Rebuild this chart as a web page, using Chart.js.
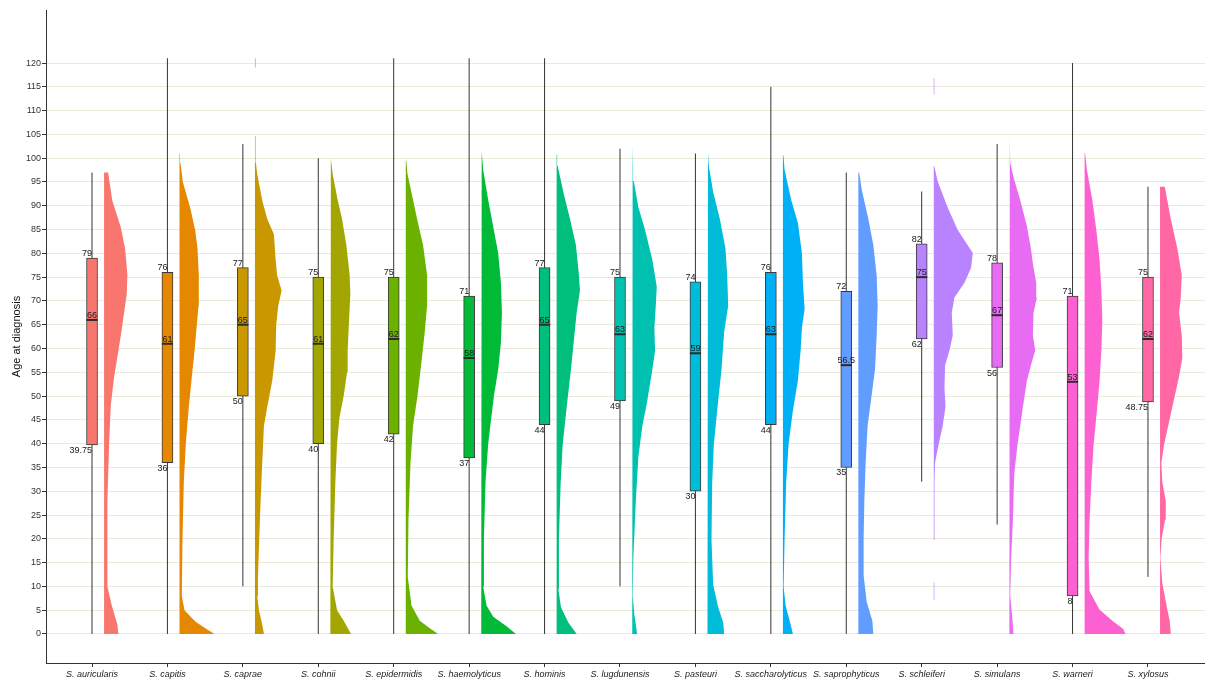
<!DOCTYPE html>
<html>
<head>
<meta charset="utf-8">
<script src="https://cdn.jsdelivr.net/npm/chart.js@4/dist/chart.umd.min.js"></script>
<style>
  html, body { margin: 0; padding: 0; background: #fff; overflow: hidden; }
  #wrap { width: 1205px; height: 680px; position: relative; }
  #chart { display: block; }
</style>
</head>
<body>
<div id="wrap"><canvas id="chart"></canvas></div>
<script>
// Categories and colours (ggplot hue palette)
const SPECIES = ['S. auricularis', 'S. capitis', 'S. caprae', 'S. cohnii', 'S. epidermidis',
  'S. haemolyticus', 'S. hominis', 'S. lugdunensis', 'S. pasteuri', 'S. saccharolyticus',
  'S. saprophyticus', 'S. schleiferi', 'S. simulans', 'S. warneri', 'S. xylosus'];
const COLORS = ['#F8766D', '#E58700', '#C99800', '#A3A500', '#6BB100', '#00BA38', '#00BF7D',
  '#00C0AF', '#00BCD8', '#00B0F6', '#619CFF', '#B983FF', '#E76BF3', '#FD61D1', '#FF67A4'];

// Box plot statistics (age at diagnosis)
const MINS    = [0, 0, 10, 0, 0, 0, 0, 10, 0, 0, 0, 32, 23, 0, 12];
const Q1S     = [39.75, 36, 50, 40, 42, 37, 44, 49, 30, 44, 35, 62, 56, 8, 48.75];
const MEDIANS = [66, 61, 65, 61, 62, 58, 65, 63, 59, 63, 56.5, 75, 67, 53, 62];
const Q3S     = [79, 76, 77, 75, 75, 71, 77, 75, 74, 76, 72, 82, 78, 71, 75];
const MAXS    = [97, 121, 103, 100, 121, 121, 121, 102, 101, 115, 97, 93, 103, 120, 94];

const Y_TICKS = [0, 5, 10, 15, 20, 25, 30, 35, 40, 45, 50, 55, 60, 65, 70, 75, 80, 85, 90, 95, 100, 105, 110, 115, 120];

// Half-violin density profiles: [age, relative width]
const DENS_AURICULARIS = [[0,14.3],[2,13.3],[6,7.7],[10,3.3],[16,3],[28,3.7],[40,5],[48,6.7],[54,10],[59.5,14.3],[63.5,17.3],[67.5,20],[71.5,22.7],[75.5,23.3],[81,21],[85.5,16.7],[91,8.3],[97,4]];
const DENS_CAPITIS = [[0,35],[1,27.3],[2.6,15.7],[5,5],[8,2.3],[20,3],[32,4.3],[40,6.3],[47.7,9.3],[54,12.3],[59.5,15],[63.5,16.7],[69,19],[75.3,19.3],[81,18],[84.8,15.7],[89.6,10.7],[95,3.3],[99,1],[101,0.5]];
const DENS_CAPRAE = [[0,9],[2,7.3],[5,4],[8,2.3],[12,3],[20,4.3],[28,5.7],[36,7.3],[43.7,9],[47.7,12.3],[53.2,17.3],[59.5,20.7],[65,21.3],[69,23.3],[72.2,26.7],[75.3,22.3],[78.5,20.7],[84,19],[87.2,12.3],[91.1,7.3],[96.7,2.3],[99,1],[104.6,0.6],[104.7,0],[119,0],[119.1,0.6],[121,0.6]];
const DENS_COHNII = [[0,20.7],[2.8,13.3],[5,6.7],[10,2.3],[20,3.3],[32,5],[40,6.7],[45.4,9],[50,13.3],[55,16.7],[59.6,17.3],[66,18.7],[71.4,20],[75.4,19.3],[81.7,16],[87.2,11.7],[91.2,7.3],[96.7,2.3],[100,0.5]];
const DENS_EPIDERMIDIS = [[0,32.3],[1.2,24],[2.8,14],[6,5.7],[12,2],[24,2.7],[36,4.7],[43.8,7.3],[50,11.7],[57.2,15.7],[63.5,19],[69,21.3],[75.4,21.3],[81.7,17.3],[87.2,11.3],[91.2,7.3],[96.7,1.7],[99.5,0.5]];
const DENS_HAEMOLYTICUS = [[0,34.7],[1.6,25.3],[3.6,12],[6,5.3],[10,2],[20,2.7],[32,4.3],[40,7],[45.4,10],[50,12.7],[55.6,17],[61.2,19.7],[67.5,20.7],[73.8,19.7],[80,17],[85.6,12],[91.2,7],[97.5,2],[101.4,0.5]];
const DENS_HOMINIS = [[0,20],[2.4,11.7],[5.6,4.3],[9.5,1.7],[20,2.3],[31.7,4],[39.7,6],[47.6,10],[55.6,14.3],[62.7,17.7],[67.5,20],[72.2,23.3],[75.4,22.3],[81.7,19.3],[87.3,13.3],[92.9,6.7],[98.4,1],[100.8,0.5]];
const DENS_LUGDUNENSIS = [[0,5],[1.6,4],[4,2.3],[8,0.7],[16,1.3],[27.8,3.7],[37.3,6.3],[43.7,10.3],[48.4,14.7],[54.8,19.7],[59.5,23],[64.3,22.3],[69,23.7],[73,24.7],[78.6,20.3],[84.9,13],[89.7,6.3],[95.2,1.7],[97.6,1],[102.8,0.6],[102.9,0],[115,0],[115.1,0.6],[119.3,0.6]];
const DENS_PASTEURI = [[0,16.7],[2.4,15.7],[5.6,10.7],[10.3,5.7],[19.8,4],[31.7,4.7],[39.7,6.3],[47.6,10],[55.6,14],[63.5,16.7],[69,20.7],[75.4,19.7],[81,18],[87.3,12.3],[92.9,5.7],[98.4,1.3],[101.2,0.5]];
const DENS_SACCHAROLYTICUS = [[0,10],[2,7.7],[6,2.7],[10,0.7],[20.2,1.7],[32,3.3],[40,5.7],[47,10],[53.3,15],[59.6,17.7],[64.4,19],[68.3,21.7],[73.8,20],[80,19],[86.4,15],[91.2,8.3],[97.5,1.7],[100.6,0.5]];
const DENS_SAPROPHYTICUS = [[0,15],[2.8,14],[6.8,8.3],[12.3,5.3],[20.2,5.3],[28,6],[36,7.3],[43.8,9.3],[50.2,13.3],[55.7,16.7],[62.8,18.3],[69,19.3],[75.4,18.3],[81.7,15],[87.2,10],[93.5,3.3],[97,0.8]];
const DENS_SCHLEIFERI = [[7.2,0.6],[10.7,0.6],[10.8,0],[19.7,0],[19.8,0.6],[32,0.7],[36,1.3],[39,4],[43.8,9],[47.8,11.7],[51.7,10.7],[56.5,11.3],[59.6,15.7],[62.8,19],[67.5,18],[70.7,20.7],[73.8,30.7],[77,37.3],[80.1,39],[84.9,24],[89.6,14],[95.1,4],[98.3,0.5],[98.4,0],[113.4,0],[113.5,0.6],[116.8,0.6]];
const DENS_SIMULANS = [[0,4.3],[4.3,2.7],[8.2,1],[16.1,2],[24,3.7],[33.5,5],[39.8,8.3],[47.7,13.7],[53.3,17.7],[57.2,22.7],[59.6,26],[62.8,23.7],[67.5,24.3],[70.7,27.7],[73.8,27],[77.8,23.7],[81,21.7],[85.7,17.7],[91.2,11],[96,4.3],[99.1,1],[104.3,0.6],[104.4,0],[113.8,0],[113.9,0.6],[120,0.6]];
const DENS_WARNERI = [[0,41],[1.1,38.3],[2.7,28.3],[5.1,15],[9,5],[16.1,4],[24,5],[31.9,6.7],[39.8,9],[47,12.3],[53.3,15],[59.6,16.7],[65.9,17.7],[72.3,16.7],[78.6,15],[84.9,11.7],[91.2,7.7],[97.5,2.3],[101.1,0.5]];
const DENS_XYLOSUS = [[0,10.7],[2.7,9.7],[5.8,6.7],[10.6,2.3],[16.1,0.3],[20.1,1.7],[24,5],[28,5.7],[31.9,2.3],[35.9,1.3],[39.8,4],[47.7,12.3],[54.1,19],[58,22.3],[62.8,21.7],[67.5,19],[70.7,20.7],[75.4,21.7],[81,17.3],[87.3,10.7],[94,4.7]];

const DENSITIES = [DENS_AURICULARIS, DENS_CAPITIS, DENS_CAPRAE, DENS_COHNII, DENS_EPIDERMIDIS,
  DENS_HAEMOLYTICUS, DENS_HOMINIS, DENS_LUGDUNENSIS, DENS_PASTEURI, DENS_SACCHAROLYTICUS,
  DENS_SAPROPHYTICUS, DENS_SCHLEIFERI, DENS_SIMULANS, DENS_WARNERI, DENS_XYLOSUS];

const VIOLIN_OFFSET = 0.16;     // gap between box and half violin, in category units
const DENSITY_SCALE = 1 / 75.4; // relative width -> category units

Chart.defaults.font.family = '"Liberation Sans", Arial, sans-serif';
Chart.defaults.color = '#333';

const datasets = [];

// half violins, drawn as closed shapes
DENSITIES.forEach((prof, i) => {
  const x0 = i + VIOLIN_OFFSET;
  const pts = prof.map(p => ({ x: x0 + p[1] * DENSITY_SCALE, y: p[0] }));
  pts.push({ x: x0, y: prof[prof.length - 1][0] });
  pts.push({ x: x0, y: prof[0][0] });
  datasets.push({
    type: 'line',
    data: pts,
    fill: 'shape',
    backgroundColor: COLORS[i],
    borderColor: 'rgba(0,0,0,0)',
    borderWidth: 0,
    pointRadius: 0,
    tension: 0,
    order: 4
  });
});

// whiskers
SPECIES.forEach((s, i) => {
  datasets.push({
    type: 'line',
    data: [{ x: i, y: MINS[i] }, { x: i, y: MAXS[i] }],
    borderColor: '#333',
    borderWidth: 1,
    pointRadius: 0,
    fill: false,
    order: 3
  });
});

// boxes (Q1 - Q3)
datasets.push({
  type: 'bar',
  data: SPECIES.map((s, i) => ({ x: i, y: [Q1S[i], Q3S[i]] })),
  backgroundColor: COLORS,
  borderColor: '#3a3a3a',
  borderWidth: 1,
  borderSkipped: false,
  barThickness: 11,
  grouped: false,
  order: 2
});

// medians
datasets.push({
  type: 'scatter',
  data: SPECIES.map((s, i) => ({ x: i, y: MEDIANS[i] })),
  pointStyle: 'line',
  pointRadius: 5.5,
  pointBorderWidth: 2,
  pointBorderColor: '#2b2b2b',
  showLine: false,
  order: 1
});

// number labels next to each box
const boxLabels = {
  id: 'boxLabels',
  afterDatasetsDraw(chart) {
    const { ctx, scales: { x, y } } = chart;
    ctx.save();
    ctx.font = '9px "Liberation Sans", Arial, sans-serif';
    ctx.fillStyle = '#1a1a1a';
    ctx.textBaseline = 'alphabetic';
    SPECIES.forEach((s, i) => {
      const cx = x.getPixelForValue(i);
      ctx.textAlign = 'right';
      ctx.fillText(String(Q3S[i]), cx, y.getPixelForValue(Q3S[i]) - 2);
      ctx.fillText(String(Q1S[i]), cx, y.getPixelForValue(Q1S[i]) + 8);
      ctx.textAlign = 'center';
      ctx.fillText(String(MEDIANS[i]), cx, y.getPixelForValue(MEDIANS[i]) - 2);
    });
    ctx.restore();
  }
};

new Chart(document.getElementById('chart'), {
  type: 'scatter',
  data: { datasets },
  plugins: [boxLabels],
  options: {
    responsive: true,
    maintainAspectRatio: false,
    animation: false,
    layout: { autoPadding: false, padding: { top: 10, right: 0, bottom: 0, left: 0 } },
    plugins: { legend: { display: false }, tooltip: { enabled: false } },
    scales: {
      x: {
        type: 'linear',
        min: -0.61,
        max: 14.756,
        offset: false,
        afterBuildTicks: s => { s.ticks = SPECIES.map((n, i) => ({ value: i })); },
        afterFit: s => { s.height = 17; s.paddingLeft = 0; s.paddingRight = 0; },
        ticks: {
          autoSkip: false,
          maxRotation: 0,
          padding: 2,
          color: '#222',
          font: { size: 9, style: 'italic' },
          callback: v => SPECIES[v]
        },
        grid: { drawOnChartArea: false, offset: false, tickLength: 4, tickColor: '#333' },
        border: { color: '#333', width: 1 }
      },
      y: {
        type: 'linear',
        min: -6.1,
        max: 131.15,
        afterBuildTicks: s => { s.ticks = Y_TICKS.map(v => ({ value: v })); },
        afterFit: s => { s.width = 46; s.paddingTop = 0; s.paddingBottom = 0; },
        ticks: { padding: 1, color: '#333', font: { size: 9 } },
        grid: { color: '#ebebdc', lineWidth: 1, tickLength: 4, tickColor: '#333' },
        border: { color: '#333', width: 1 },
        title: {
          display: true,
          text: 'Age at diagnosis',
          color: '#111',
          font: { size: 11 },
          padding: { top: 10, bottom: 0 }
        }
      }
    }
  }
});
</script>
</body>
</html>
